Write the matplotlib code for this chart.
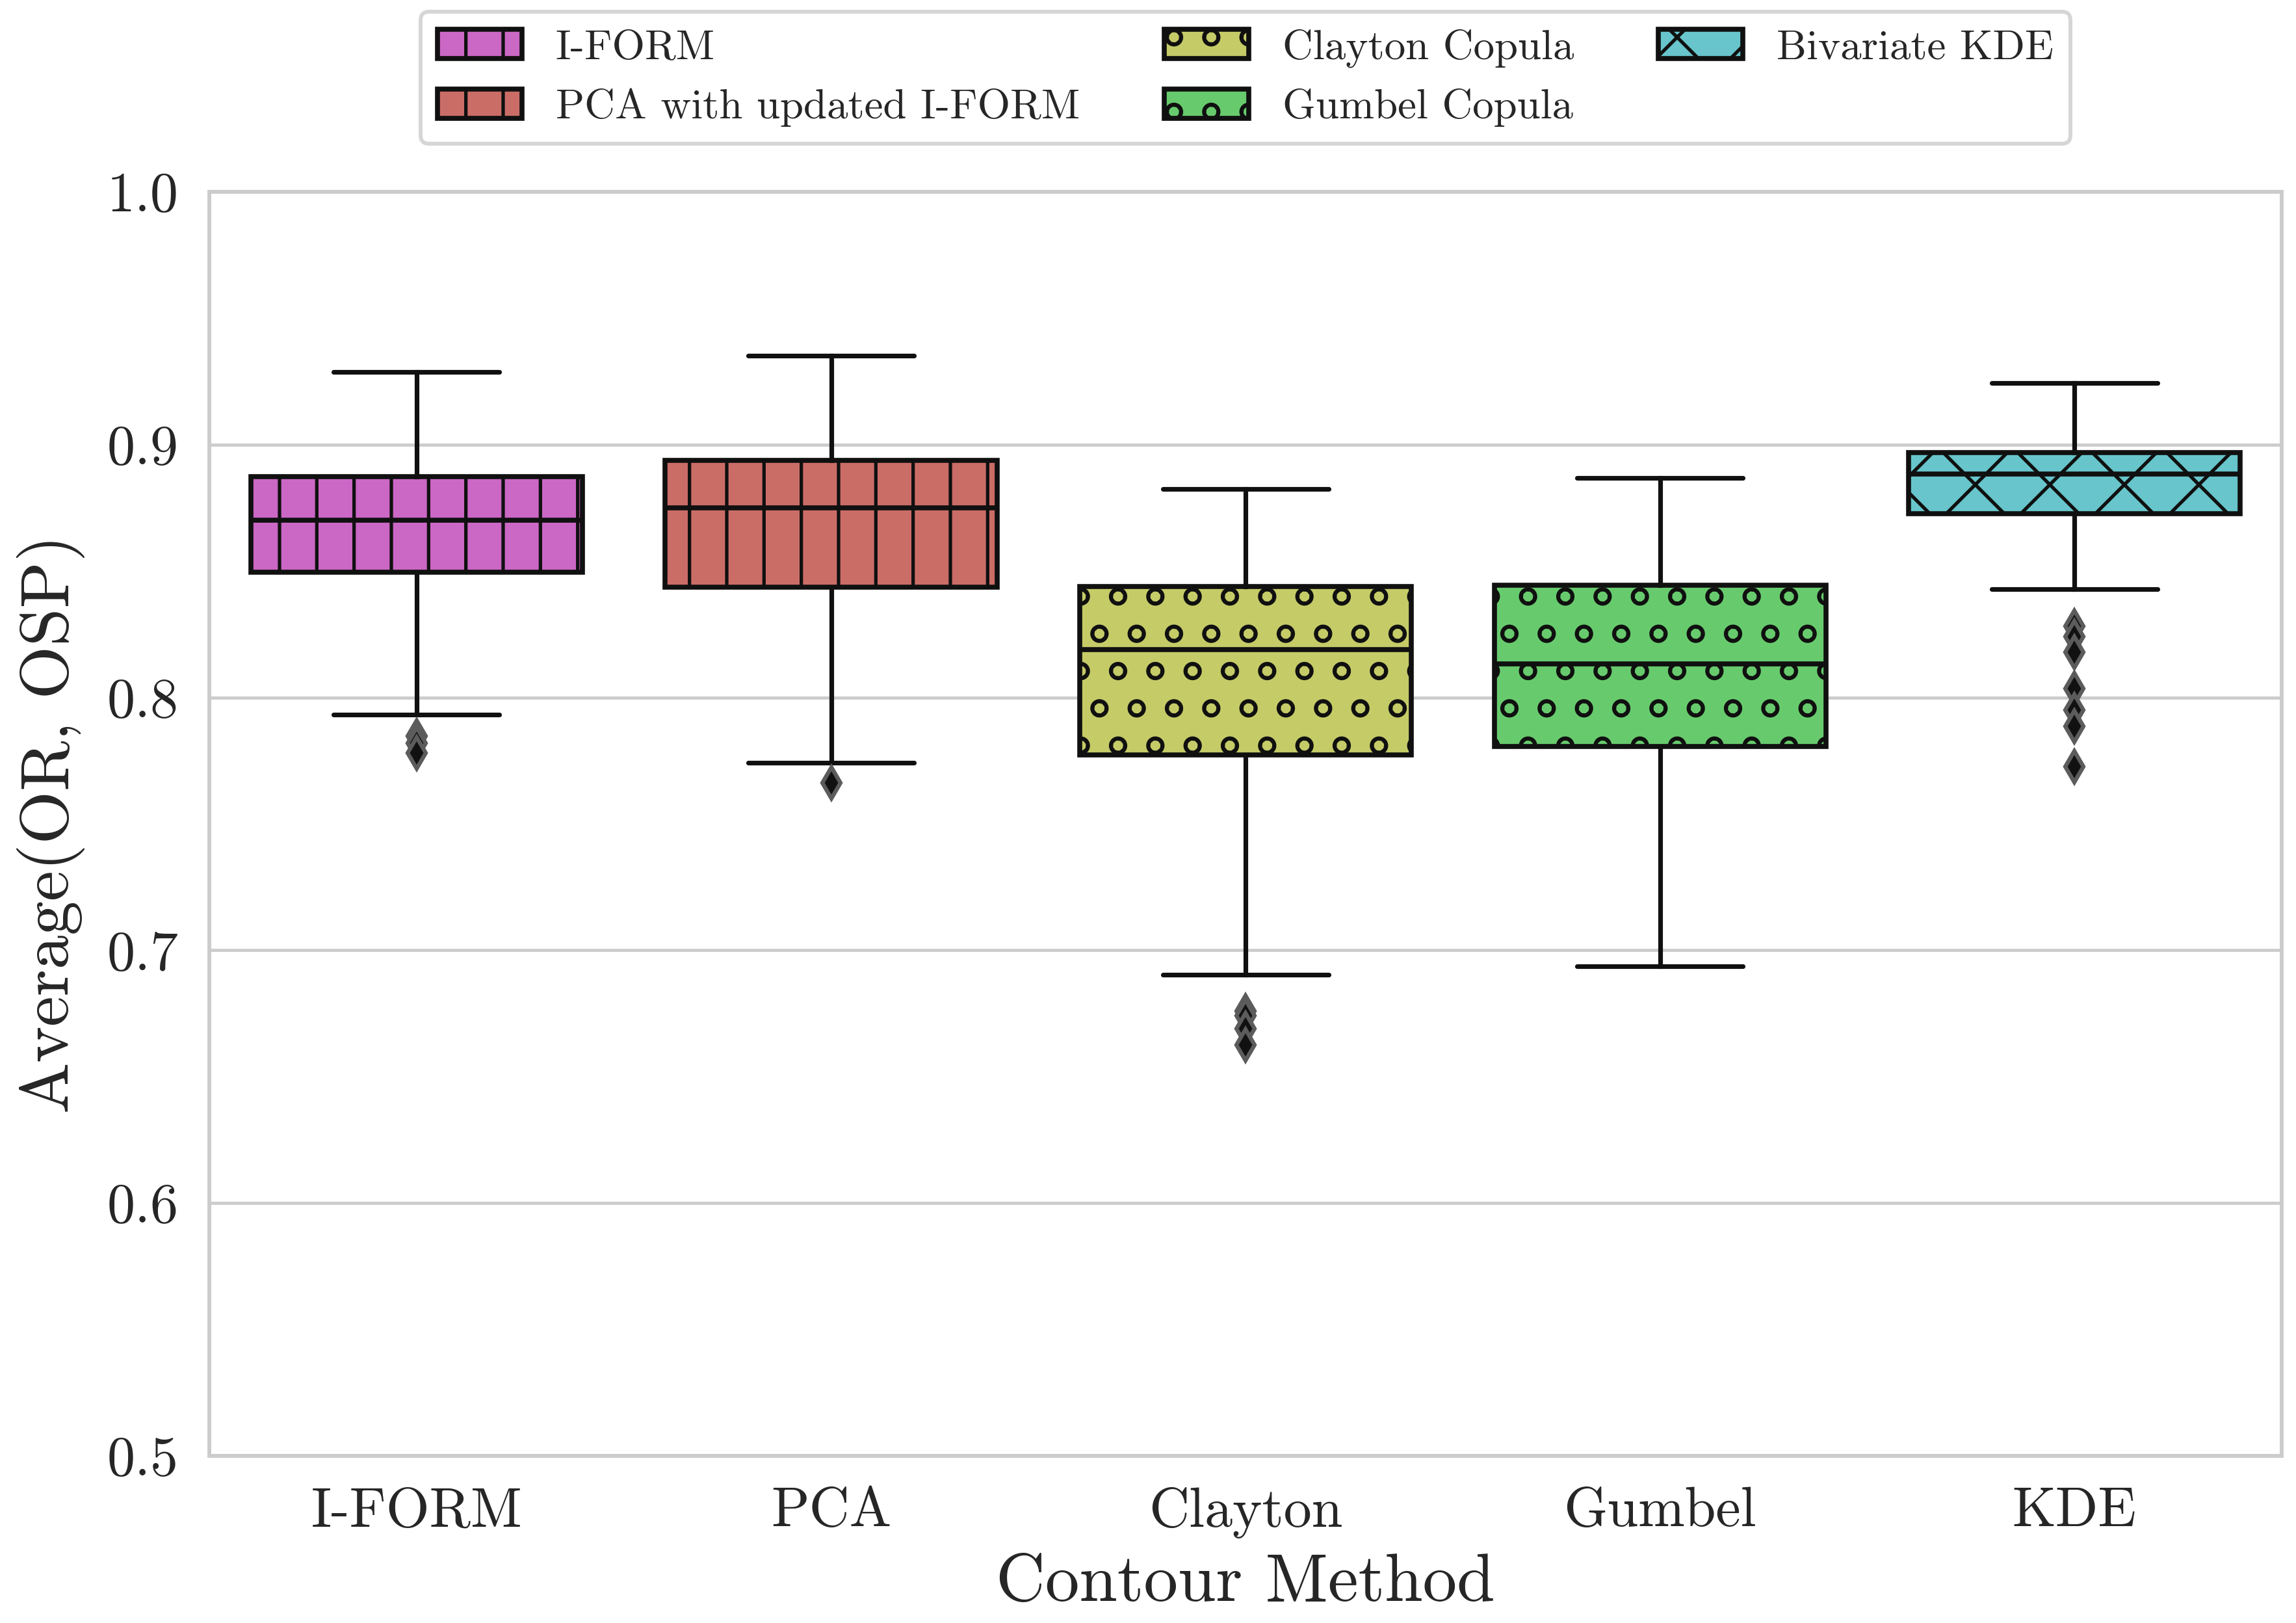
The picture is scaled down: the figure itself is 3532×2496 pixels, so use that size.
import matplotlib
matplotlib.use("Agg")
import matplotlib.pyplot as plt
from matplotlib.patches import Patch

plt.rcParams["font.family"]        = ["cmr10", "DejaVu Serif"]
plt.rcParams["mathtext.fontset"]   = "cm"
plt.rcParams["axes.unicode_minus"] = False
plt.rcParams["hatch.linewidth"]    = 1.1
plt.rcParams["text.color"]         = "#262626"
plt.rcParams["axes.labelcolor"]    = "#262626"
plt.rcParams["xtick.color"]        = "#262626"
plt.rcParams["ytick.color"]        = "#262626"

DPI = 344

# values
methods   = ["I-FORM", "PCA", "Clayton", "Gumbel", "KDE"]
legend_labels = ["I-FORM", "PCA with updated I-FORM", "Clayton Copula",
                 "Gumbel Copula", "Bivariate KDE"]
whis_lo   = [0.7931, 0.7741, 0.6903, 0.6937, 0.8429]
q1        = [0.8495, 0.8435, 0.7773, 0.7807, 0.8726]
medians   = [0.8700, 0.8750, 0.8190, 0.8133, 0.8883]
q3        = [0.8873, 0.8939, 0.8440, 0.8443, 0.8968]
whis_hi   = [0.9287, 0.9352, 0.8824, 0.8868, 0.9244]
fliers    = [
    [0.7846, 0.7820, 0.7780],
    [0.7661],
    [0.6760, 0.6742, 0.6690, 0.6625],
    [],
    [0.8282, 0.8240, 0.8179, 0.8034, 0.7951, 0.7886, 0.7727],
]
yticks = [0.5, 0.6, 0.7, 0.8, 0.9, 1.0]

colors  = ["#CB67C5", "#CB6D67", "#C5CB67", "#67CB6D", "#67C5CB"]
hatches = ["|", "|", "o", "o", "x"]
LINE = "#101010"

stats = []
for i, m in enumerate(methods):
    stats.append({
        "label":  m,
        "whislo": whis_lo[i],
        "q1":     q1[i],
        "med":    medians[i],
        "q3":     q3[i],
        "whishi": whis_hi[i],
        "fliers": fliers[i],
    })

fig = plt.figure(figsize=(3532 / DPI, 2496 / DPI), dpi=DPI)
ax = fig.add_axes([0.0912, 0.1030, 0.9026, 0.7788])

bp = ax.bxp(stats, positions=range(len(methods)), widths=0.8,
            patch_artist=True, showfliers=True,
            boxprops=dict(linewidth=1.6, edgecolor=LINE),
            medianprops=dict(color=LINE, linewidth=1.6),
            whiskerprops=dict(color=LINE, linewidth=1.5),
            capprops=dict(color=LINE, linewidth=1.5, solid_capstyle="round"),
            flierprops=dict(marker="d", markersize=7, markerfacecolor="#111111",
                            markeredgecolor="#5c5c5c", markeredgewidth=1.3,
                            linestyle="none"))

for patch, c, h in zip(bp["boxes"], colors, hatches):
    patch.set_facecolor(c)
    patch.set_hatch(h)
    patch.set_edgecolor(LINE)

ax.set_xlim(-0.5, len(methods) - 0.5)
ax.set_ylim(0.5, 1.0)
ax.set_yticks(yticks)
ax.set_yticklabels([f"{t:.1f}" for t in yticks])
ax.set_xticks(range(len(methods)))
ax.set_xticklabels(methods)
ax.tick_params(axis="both", length=0, labelsize=18, pad=10)

ax.set_facecolor("white")
ax.yaxis.grid(True, color="#cccccc", linewidth=1.0)
ax.xaxis.grid(False)
ax.set_axisbelow(True)
for s in ax.spines.values():
    s.set_color("#cccccc")
    s.set_linewidth(1.25)

ax.set_xlabel("Contour Method", fontsize=22, labelpad=5)
ax.set_ylabel("Average(OR, OSP)", fontsize=22, labelpad=7)

handles = [Patch(facecolor=c, edgecolor=LINE, hatch=h, linewidth=1.6)
           for c, h in zip(colors, hatches)]
leg = ax.legend(handles, legend_labels, loc="lower center",
                bbox_to_anchor=(0.5, 1.038), ncol=3, fontsize=13.6,
                borderaxespad=0, frameon=True, fancybox=True)
leg.get_frame().set_edgecolor("#cccccc")
leg.get_frame().set_linewidth(1.25)

fig.savefig("out.png", dpi=DPI)
